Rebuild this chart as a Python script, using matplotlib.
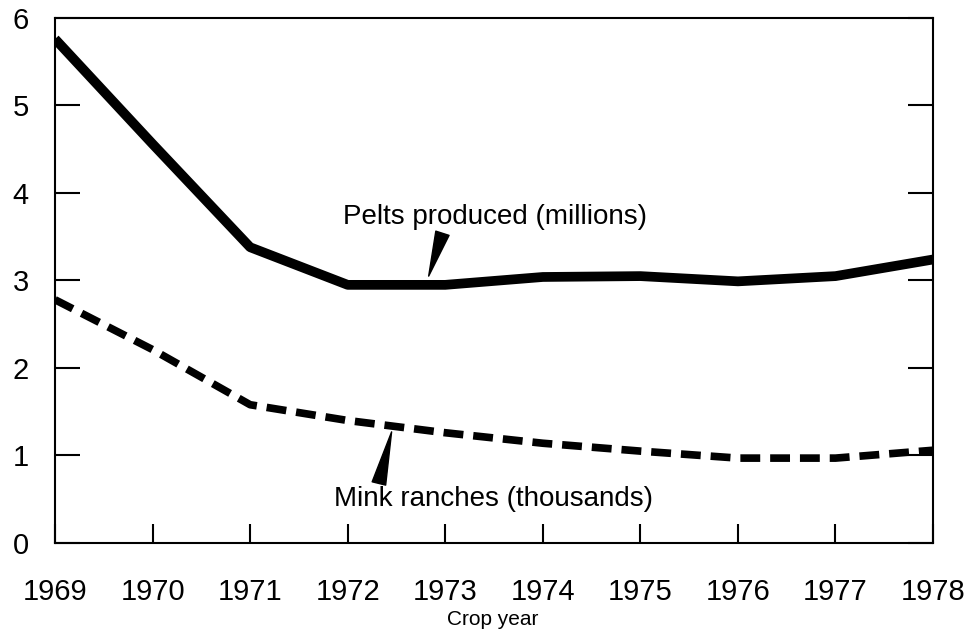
"""Mink pelts produced and mink ranches, 1969-1978."""

import matplotlib.pyplot as plt

plt.switch_backend("Agg")
plt.rcParams["font.family"] = ["Liberation Sans", "DejaVu Sans"]

years = [1969, 1970, 1971, 1972, 1973, 1974, 1975, 1976, 1977, 1978]
pelts = [5.76, 4.56, 3.38, 2.95, 2.95, 3.04, 3.05, 2.99, 3.05, 3.24]
ranches = [2.78, 2.21, 1.58, 1.40, 1.26, 1.14, 1.05, 0.97, 0.97, 1.06]
y_ticks = [0, 1, 2, 3, 4, 5, 6]

fig = plt.figure(figsize=(9.67, 6.33), dpi=100)
ax = fig.add_axes([0.0569, 0.1422, 0.908, 0.8294])

ax.plot(years, pelts, color="black", linewidth=7, solid_joinstyle="round",
        solid_capstyle="butt")
ax.plot(years, ranches, color="black", linewidth=5.5, dashes=(2.6, 1.3),
        dash_capstyle="butt")

ax.set_xlim(1969, 1978)
ax.set_ylim(0, 6)
ax.set_xticks(years)
ax.set_yticks(y_ticks)
ax.tick_params(axis="y", direction="in", length=18, width=1.5, pad=19,
               labelsize=21, right=True)
ax.tick_params(axis="x", direction="in", length=14, width=1.5, pad=25,
               labelsize=21)
for sp in ax.spines.values():
    sp.set_linewidth(1.5)

ax.annotate("Pelts produced (millions)", xy=(1972.83, 3.05),
            xytext=(1973.51, 3.72), ha="center", va="center", fontsize=20,
            arrowprops=dict(arrowstyle="wedge,tail_width=0.5", color="black",
                            relpos=(0.33, 0.0), shrinkA=0, shrinkB=0))
ax.annotate("Mink ranches (thousands)", xy=(1972.45, 1.27),
            xytext=(1973.49, 0.5), ha="center", va="center", fontsize=20,
            arrowprops=dict(arrowstyle="wedge,tail_width=0.5", color="black",
                            relpos=(0.14, 1.0), shrinkA=0, shrinkB=0))

# axis title sits low, close to the bottom edge
fig.text(0.51, 0.021, "Crop year", ha="center", va="center", fontsize=15)

fig.savefig("out.png", dpi=100)
